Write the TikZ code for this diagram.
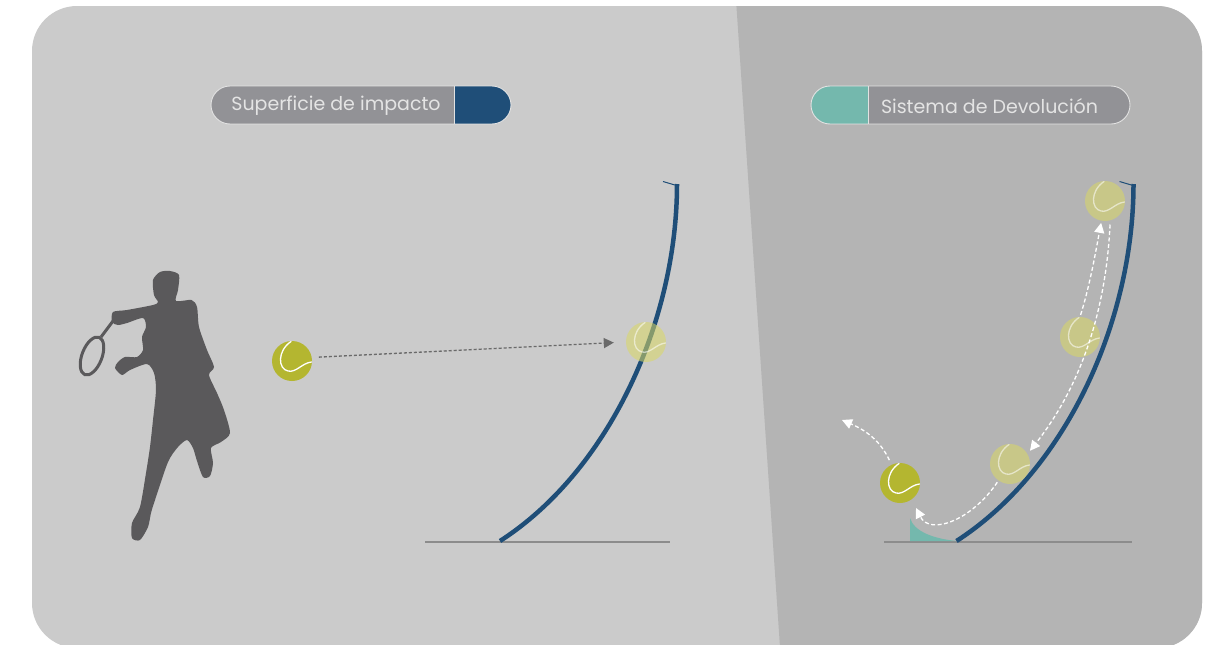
\documentclass[tikz,border=0pt]{standalone}
\usepackage{fontspec}
\newfontfamily\pillfont{Poppins}
\usetikzlibrary{arrows.meta}

\definecolor{panelL}{HTML}{CBCBCB}
\definecolor{panelR}{HTML}{B4B4B4}
\definecolor{wallblue}{HTML}{1F4E78}
\definecolor{tealc}{HTML}{74B8AD}
\definecolor{pillgray}{HTML}{929296}
\definecolor{pilltxt}{HTML}{E4E4E4}
\definecolor{pillrim}{HTML}{E2E2E2}
\definecolor{ballc}{HTML}{B4B630}
\definecolor{fadec}{HTML}{DAD864}
\definecolor{silh}{HTML}{5A595B}
\definecolor{groundc}{HTML}{8C8C8C}
\definecolor{arrowgray}{HTML}{6A6A6A}

\tikzset{
  wall/.style={wallblue, line width=4.5pt},
  walltick/.style={wallblue, line width=1pt},
  groundline/.style={groundc, line width=1.2pt},
  ballsolid/.style={circle, minimum size=40pt, inner sep=0pt, fill=ballc},
  ballfaded/.style={circle, minimum size=40pt, inner sep=0pt, fill=fadec, fill opacity=0.55},
  seam/.pic={
    \draw[white, line width=1.3pt, line cap=round]
      (-1,-19.5) .. controls (-15,-10) and (-14,8) .. (-4,10)
      .. controls (4,12) and (10,2) .. (19.5,1);
  },
  fadedseam/.pic={
    \draw[white, draw opacity=0.55, line width=1.3pt, line cap=round]
      (-1,-19.5) .. controls (-15,-10) and (-14,8) .. (-4,10)
      .. controls (4,12) and (10,2) .. (19.5,1);
  },
  pilltext/.style={font=\pillfont\fontsize{19}{21}\selectfont, text=pilltxt, inner sep=0pt, anchor=center},
  pillrimline/.style={pillrim, line width=0.9pt},
  flightarrow/.style={arrowgray, line width=1.3pt, dash pattern=on 3pt off 2pt,
    -{Triangle[length=10pt, width=10pt]}},
  returnarrow/.style={white, line width=1.3pt, dash pattern=on 4pt off 2.5pt,
    -{Triangle[length=10pt, width=10pt]}},
}

\begin{document}
\begin{tikzpicture}[x=1pt, y=-1pt]
\useasboundingbox (0,0) rectangle (1218,645);

% two-tone rounded panel
\begin{scope}
  \clip[rounded corners=45pt] (32,6) rectangle (1202,648);
  \fill[panelL] (0,0) rectangle (1218,700);
  \fill[panelR] (736,0) -- (1218,0) -- (1218,700) -- (783.6,700) -- cycle;
\end{scope}

% ---- legend pills ----
\begin{scope}
  \clip[rounded corners=19pt] (211,86) rectangle (511,124);
  \fill[pillgray] (211,86) rectangle (454,124);
  \fill[wallblue] (454,86) rectangle (511,124);
\end{scope}
\draw[pillrimline, rounded corners=19pt] (211,86) rectangle (511,124);
\draw[pillrimline] (454,86) -- (454,124);
\node[pilltext] (lblimpact) at (336,106) {Superficie de impacto};

\begin{scope}
  \clip[rounded corners=19pt] (811,86) rectangle (1130,124);
  \fill[tealc] (811,86) rectangle (868.5,124);
  \fill[pillgray] (868.5,86) rectangle (1130,124);
\end{scope}
\draw[pillrimline, rounded corners=19pt] (811,86) rectangle (1130,124);
\draw[pillrimline] (868.5,86) -- (868.5,124);
\node[pilltext] (lblreturn) at (989.5,106) {Sistema de Devolución};

% ---- player silhouette ----
\fill[silh] plot[smooth cycle, tension=0.45] coordinates {
  (153,280) (160,272) (170,271) (179,275) (178,290) (176,301) (191.5,300) (197,307)
  (199,327) (207,350) (214,367) (209,375) (217,393) (224,410) (230,433)
  (221,442) (211,448) (213,463) (210,476) (203,477) (197,461) (193,448)
  (187,440) (178,447) (168,462) (155,500) (151,513) (148,527)
  (140,540) (132,538) (132,523) (140,507) (146,473) (150,447) (153,420)
  (156,390) (154,373) (147,364) (130,370) (122,375) (115,368) (118,362)
  (125,357) (137,357) (143,350) (142,337) (146,327) (143,318) (127,323)
  (118,325) (112,322) (113,312) (127,310) (153,305) (158,302) (154,295)
};
\draw[silh, line width=3pt] (113,321) -- (101,337);
\draw[silh, line width=3pt, rotate around={-21:(92,356)}] (92,356) ellipse [x radius=10, y radius=20];

% ---- impact surface ----
\draw[groundline] (425,542) -- (670,542);
\draw[wall] (500,541) .. controls (610,470) and (677,320) .. (677,184);
\draw[walltick] (663,181.5) -- (676.5,185.5);

\node[ballsolid] (shot) at (292,361) {};
\pic at (shot) {seam};
\node[ballfaded] (hit) at (646,342) {};
\pic at (hit) {fadedseam};
\draw[flightarrow, shorten <=7pt, shorten >=12pt] (shot.10) -- (hit.west);

% ---- return system ----
\draw[groundline] (884,542) -- (1132,542);
\fill[tealc] (910,518) -- (910,541) -- (957,541)
  .. controls (935,539) and (914,532) .. (910,518) -- cycle;
\draw[wall] (956.5,541) .. controls (1066.5,470) and (1133.5,320) .. (1133.5,184);
\draw[walltick] (1119.5,181.5) -- (1133,185.5);

\node[ballfaded] (top) at (1105,201) {};
\pic at (top) {fadedseam};
\node[ballfaded] (mid) at (1080,337) {};
\pic at (mid) {fadedseam};
\node[ballfaded] (low) at (1010,464) {};
\pic at (low) {fadedseam};
\node[ballsolid] (out) at (900,483) {};
\pic at (out) {seam};

\coordinate (lipend) at (916,508);
\coordinate (exitend) at (842,420);

\draw[returnarrow, shorten <=2pt, shorten >=2pt] (mid.north)
  .. controls (1090,285) and (1096,250) .. (top.-100);
\draw[returnarrow, shorten <=4pt, shorten >=4pt] (top.-75)
  .. controls (1105,330) and (1070,400) .. (low.30);
\draw[returnarrow, shorten <=2pt] (low.-125)
  .. controls (972,520) and (930,536) .. (lipend);
\draw[returnarrow, shorten <=5pt] (out.115)
  .. controls (880,440) and (865,430) .. (exitend);
\end{tikzpicture}
\end{document}
